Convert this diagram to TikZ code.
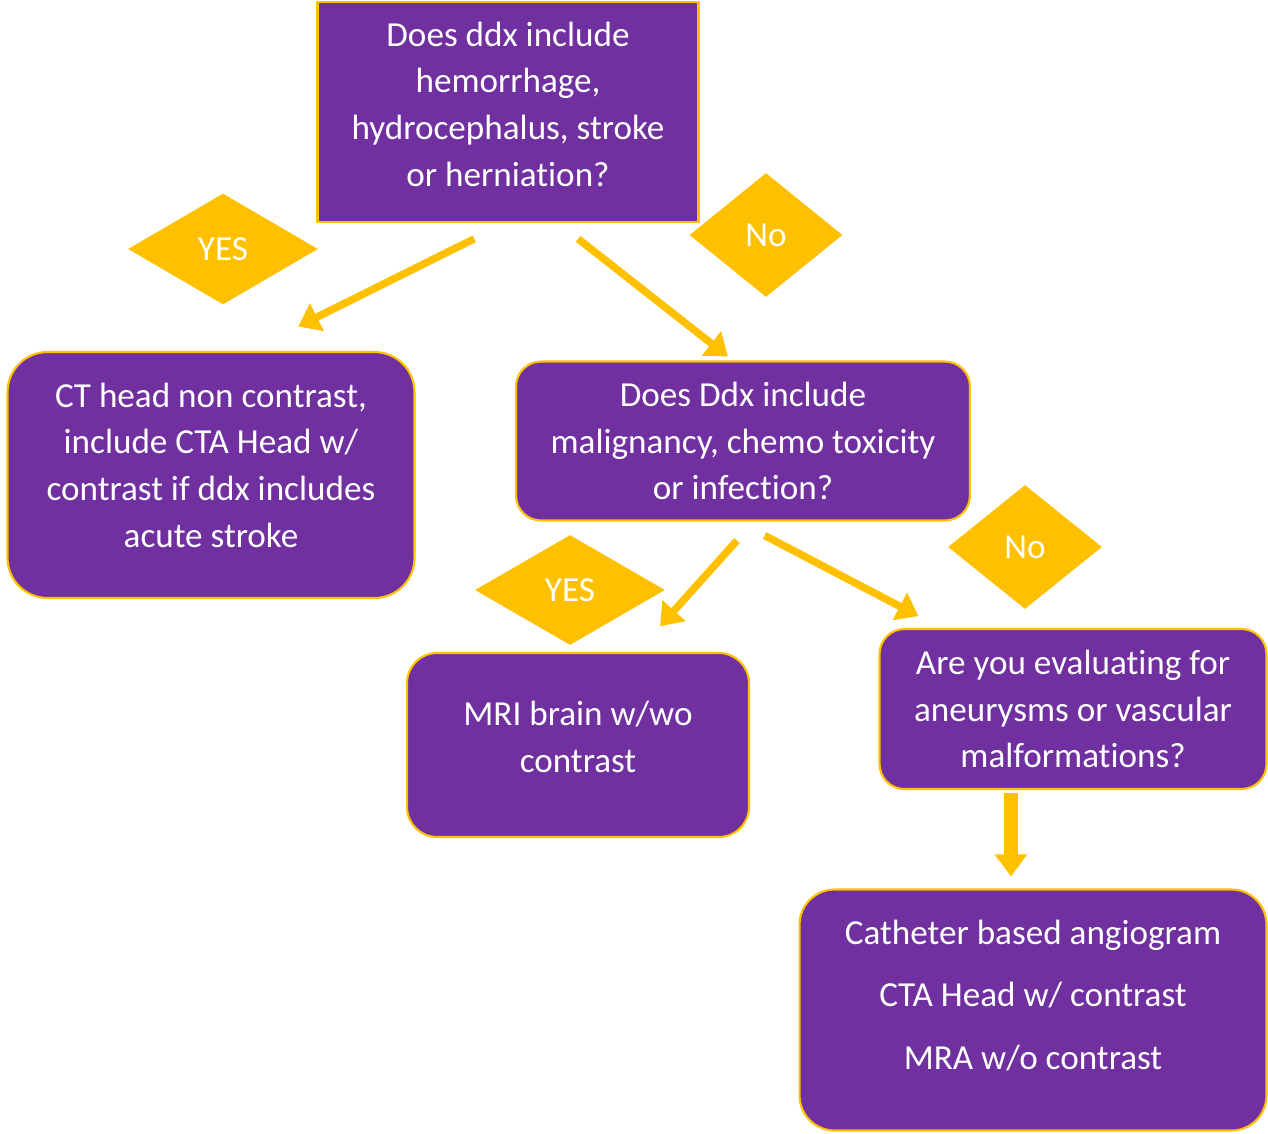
\documentclass[tikz,border=0pt]{standalone}
\usepackage{fontspec}
\setmainfont{Carlito}[Ligatures=NoCommon]
\usepackage{tikz}
\usetikzlibrary{arrows.meta,shapes.geometric,positioning,calc}
\usepackage{xcolor}
\definecolor{flpurple}{RGB}{112,48,160}
\definecolor{flgold}{RGB}{255,192,0}
\tikzstyle{arrow} = [line width=0.15cm,-{Triangle[length=0.42cm,width=0.6cm]},color=flgold]
\tikzstyle{bigarrow} = [line width=0.28cm,-{Triangle[length=0.44cm,width=0.62cm]},color=flgold]
\tikzstyle{question} = [rectangle, rounded corners=0.5cm, align=center, text=white, draw=flgold, fill=flpurple, line width=1.2pt, font=\fontsize{20}{26.5}\selectfont]
\tikzstyle{answer} = [diamond, inner sep=0pt, fill=flgold, text=white, font=\fontsize{20}{24}\selectfont]

\begin{document}
\begin{tikzpicture}[x=0.02cm, y=-0.02cm]
    \useasboundingbox (0,0) rectangle (1268,1133);
    % Nodes
    \node[question, rounded corners=0pt, text depth=0.32cm, minimum width=7.62cm, minimum height=4.4cm] (ddx) at (508,112) {Does ddx include\\hemorrhage,\\hydrocephalus, stroke\\or herniation?};
    \node[question, rounded corners=0.8cm, text depth=0.4cm, minimum width=8.14cm, minimum height=4.92cm] (ct) at (211,475) {CT head non contrast,\\include CTA Head w/\\contrast if ddx includes\\acute stroke};
    \node[question, minimum width=9.08cm, minimum height=3.18cm] (onc) at (743,441) {Does Ddx include\\malignancy, chemo toxicity\\or infection?};
    \node[question, rounded corners=0.6cm, text depth=0.32cm, minimum width=6.84cm, minimum height=3.68cm] (mri) at (578,745) {MRI brain w/wo\\contrast};
    \node[question, minimum width=7.74cm, minimum height=3.2cm] (vasc) at (1073,709) {Are you evaluating for\\aneurysms or vascular\\malformations?};
    \node[question, rounded corners=0.7cm, text depth=0.62cm, minimum width=9.34cm, minimum height=4.82cm] (angio) at (1033,1010) {Catheter based angiogram\\[9pt]CTA Head w/ contrast\\[9pt]MRA w/o contrast};

    \node[answer, minimum width=3.8cm, minimum height=2.22cm] (yes1) at (223,249) {YES};
    \node[answer, minimum width=3.06cm, minimum height=2.48cm] (no1) at (766,235) {No};
    \node[answer, minimum width=3.8cm, minimum height=2.2cm] (yes2) at (570,590) {YES};
    \node[answer, minimum width=3.08cm, minimum height=2.48cm] (no2) at (1025,547) {No};

    % Arrows
    \draw[arrow, shorten <=0.71cm, shorten >=1.1cm] ($(ddx.south)+(-2,0)$) -- ($(ct.north)+(38,0)$);
    \draw[arrow, shorten <=0.51cm, shorten >=0.13cm] ($(ddx.south)+(50,0)$) -- ($(onc.north)+(-10,0)$);
    \draw[arrow, shorten <=0.51cm, shorten >=0.69cm] ($(onc.south)+(11,0)$) -- ($(mri.north)+(59,0)$);
    \draw[arrow, shorten <=0.6cm, shorten >=0.51cm] ($(onc.south)+(-5,0)$) -- ($(vasc.north)+(-132,0)$);
    \draw[bigarrow, shorten <=0.06cm, shorten >=0.24cm] ($(vasc.south)+(-62,0)$) -- ($(angio.north)+(-22,0)$);
\end{tikzpicture}
\end{document}
